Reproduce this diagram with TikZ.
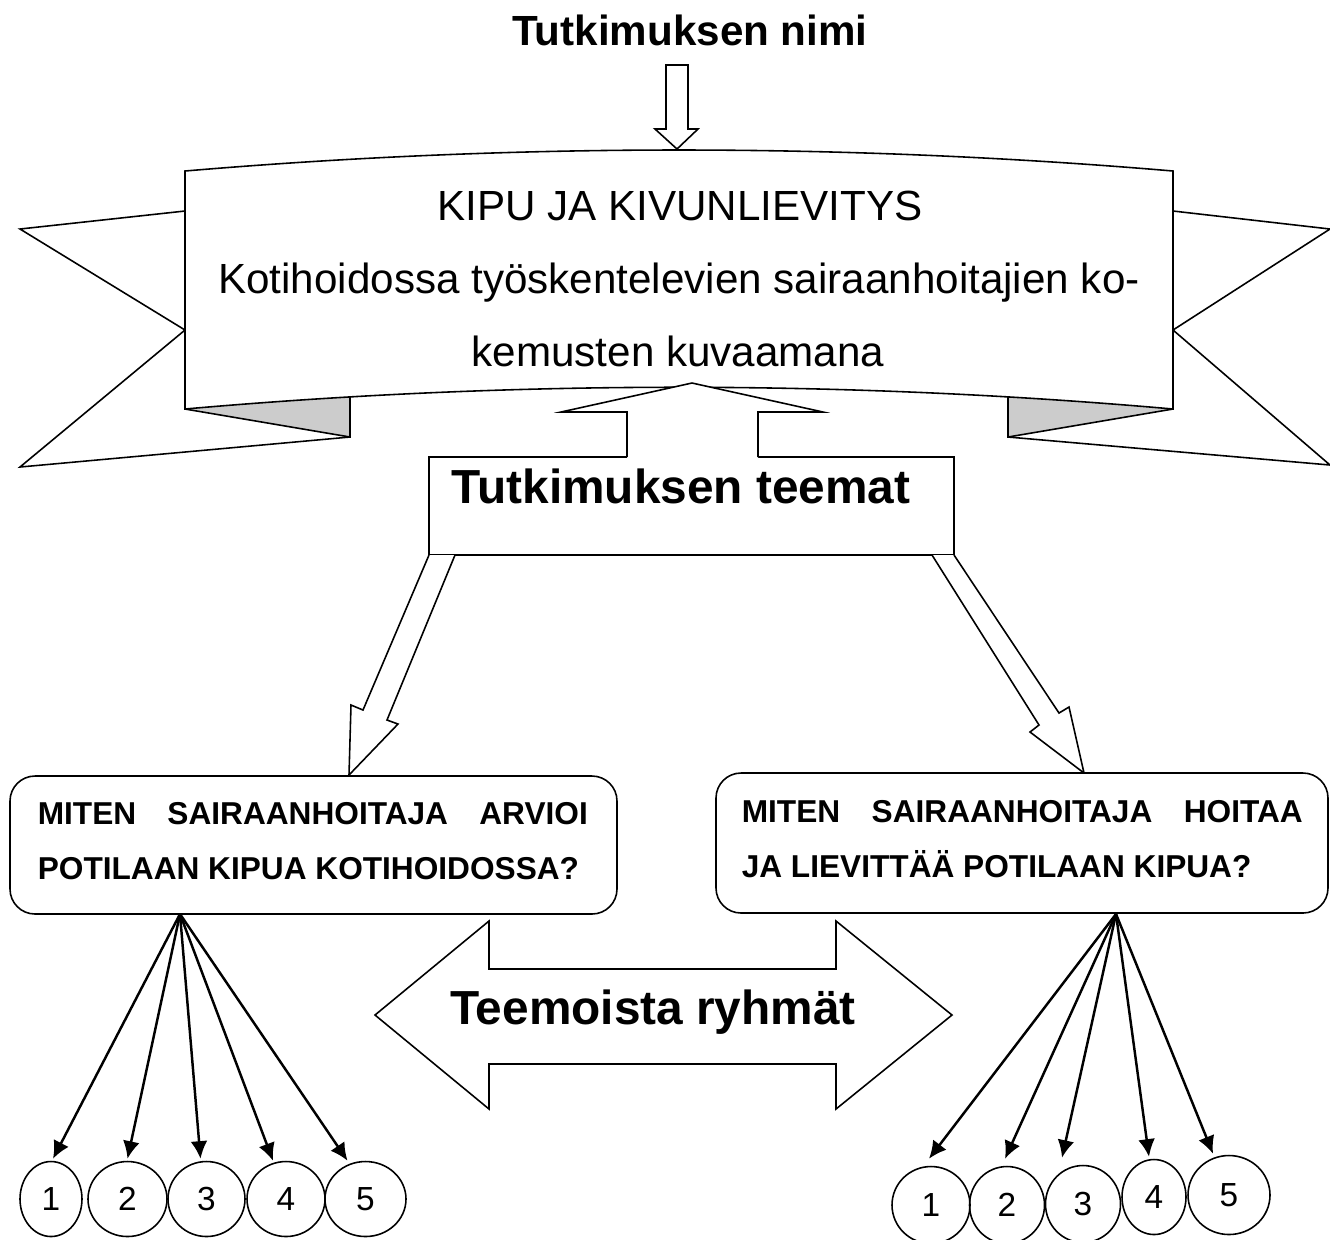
\documentclass[tikz,border=0pt]{standalone}
\usepackage{fontspec}
\setmainfont{Liberation Sans}
\usetikzlibrary{arrows.meta,shapes.geometric}
\definecolor{foldgray}{RGB}{204,204,204}
\begin{document}
\begin{tikzpicture}[x=0.1mm,y=-0.1mm, line width=0.45pt, line join=miter,
  outline/.style={draw=black, fill=white},
  qbox/.style={draw, rounded corners=2.5mm, inner sep=0pt, fill=white},
  qtext/.style={anchor=base west, inner sep=0pt, font=\fontsize{9}{10}\selectfont\bfseries},
  bigbold/.style={inner sep=0pt, font=\fontsize{13.6}{16}\selectfont\bfseries},
  plain/.style={anchor=base, inner sep=0pt, font=\fontsize{12}{14}\selectfont},
  num/.style={draw, ellipse, inner sep=0pt, font=\fontsize{9.5}{10}\selectfont},
  fan/.style={-{Latex[length=5pt,width=4.8pt]}, line width=0.7pt}]
\useasboundingbox (0,0) rectangle (1330,1239);

% title and top arrow
\node[anchor=base, inner sep=0pt, font=\fontsize{12}{14}\selectfont\bfseries] (title) at (690,45) {Tutkimuksen nimi};
\draw[outline] (666,65) -- (688,65) -- (688,129) -- (698,129) -- (677,149) -- (655,129) -- (666,129) -- cycle;

% banner tails and folds
\draw (185,211) -- (20,229) -- (185,330) -- (20,467) -- (350,437);
\fill[foldgray] (185,409) -- (350,437) -- (350,385) -- (185,385) -- cycle;
\draw (185,409) -- (350,437) -- (350,390);
\draw (1173,211) -- (1330,229) -- (1173,330) -- (1330,465) -- (1008,437);
\fill[foldgray] (1173,409) -- (1008,437) -- (1008,385) -- (1173,385) -- cycle;
\draw (1173,409) -- (1008,437) -- (1008,390);

% banner front panel
\draw[outline] (185,171) .. controls (514,143) and (844,143) .. (1173,171) -- (1173,409)
  .. controls (844,380) and (514,380) .. (185,409) -- cycle;
\node[plain] (b1) at (680,220) {KIPU JA KIVUNLIEVITYS};
\node[plain] (b2) at (679,293) {Kotihoidossa työskentelevien sairaanhoitajien ko-};
\node[plain] (b3) at (678,366) {kemusten kuvaamana};

% themes box
\node[draw, fill=white, minimum width=52.5mm, minimum height=9.8mm, inner sep=0pt] (themes) at (691.5,506) {};
\node[bigbold, anchor=base west] (themestext) at (451,503) {Tutkimuksen teemat};

% up arrow into banner
\fill[white] (627,460) -- (627,412) -- (561,412) -- (692,383) -- (823,412) -- (758,412) -- (758,460) -- cycle;
\draw (627,457) -- (627,412) -- (561,412) -- (692,383) -- (823,412) -- (758,412) -- (758,457);

% slanted block arrows
\draw[outline] (429,555) -- (363,710) -- (351,705) -- (349,775) -- (398,724) -- (387,720) -- (455,555);
\draw[outline] (932,555) -- (1039,725) -- (1030,732) -- (1084,773) -- (1069,707) -- (1059,713) -- (954,555);

% question boxes
\node[qbox, minimum width=60.7mm, minimum height=13.8mm] (lq) at (313.5,845) {};
\node[qbox, minimum width=61.2mm, minimum height=14mm] (rq) at (1022,843) {};
\node[qtext] (lq1) at (37,824) {\makebox[55mm][s]{MITEN SAIRAANHOITAJA ARVIOI}};
\node[qtext] (lq2) at (37,879) {POTILAAN KIPUA KOTIHOIDOSSA?};
\node[qtext] (rq1) at (741,822) {\makebox[56.1mm][s]{MITEN SAIRAANHOITAJA HOITAA}};
\node[qtext] (rq2) at (741,877) {JA LIEVITTÄÄ POTILAAN KIPUA?};

% double arrow
\draw[outline] (375,1015) -- (489,921) -- (489,969) -- (836,969) -- (836,921) -- (952,1015)
  -- (836,1109) -- (836,1064) -- (489,1064) -- (489,1109) -- cycle;
\node[bigbold, anchor=base] (groups) at (653,1024) {Teemoista ryhmät};

% left circles
\node[num, minimum width=6.2mm, minimum height=7.5mm] (l1) at (51,1199) {1};
\node[num, minimum width=7.9mm, minimum height=7.5mm] (l2) at (127.5,1199) {2};
\node[num, minimum width=7.7mm, minimum height=7.5mm] (l3) at (206.5,1199) {3};
\node[num, minimum width=7.8mm, minimum height=7.5mm] (l4) at (286,1199) {4};
\node[num, minimum width=8.1mm, minimum height=7.5mm] (l5) at (365.5,1199) {5};

% right circles
\node[num, minimum width=7.8mm, minimum height=7.7mm] (r1) at (931,1205) {1};
\node[num, minimum width=7.5mm, minimum height=7.7mm] (r2) at (1007,1205) {2};
\node[num, minimum width=7.5mm, minimum height=7.7mm] (r3) at (1083,1204) {3};
\node[num, minimum width=6.4mm, minimum height=7.5mm] (r4) at (1154,1197) {4};
\node[num, minimum width=8.2mm, minimum height=7.9mm] (r5) at (1229,1195) {5};

% fan arrows
\coordinate (ls) at (180,914);
\coordinate (rs) at (1116,914);
\draw[fan] (ls) -- ([shift={(2,-2)}]l1.north);
\draw[fan] (ls) -- ([shift={(0,-2)}]l2.north);
\draw[fan] (ls) -- ([shift={(-6,-2)}]l3.north);
\draw[fan] (ls) -- ([shift={(-13,0)}]l4.north);
\draw[fan] (ls) -- ([shift={(-18,0)}]l5.north);
\draw[fan] (rs) -- ([shift={(-2,-7)}]r1.north);
\draw[fan] (rs) -- ([shift={(-2,-7)}]r2.north);
\draw[fan] (rs) -- ([shift={(-21,-7)}]r3.north);
\draw[fan] (rs) -- ([shift={(-5,-2)}]r4.north);
\draw[fan] (rs) -- ([shift={(-16,-1)}]r5.north);
\end{tikzpicture}
\end{document}
